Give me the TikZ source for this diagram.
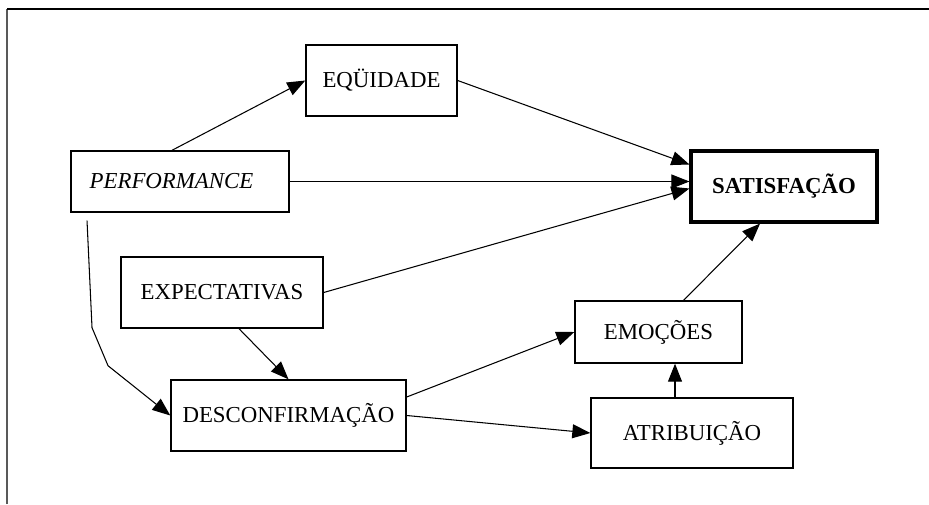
\documentclass[tikz,border=0pt]{standalone}
\usepackage{xcolor}
\usepackage{fontspec}
\setmainfont{Liberation Serif}
\usepackage{tikz}
\usetikzlibrary{arrows.meta}

\tikzset{
  box/.style={draw, line width=0.8pt, inner sep=0pt, font=\fontsize{13}{15}\selectfont},
  satbox/.style={box, line width=1.8pt, font=\fontsize{13}{15}\selectfont\bfseries},
  arr/.style={line width=0.6pt, -{Triangle[length=0.36cm,width=0.28cm]}}
}

\begin{document}
\begin{tikzpicture}[x=0.02cm,y=-0.02cm]
\useasboundingbox (0,0) rectangle (929,504);
\draw[gray!70!black, line width=0.9pt] (7,504) -- (7,9);
\draw[line width=0.8pt] (7,9) -- (929,9);

\node[box, minimum width=3.02cm, minimum height=1.42cm] (eq) at (381.5,80.5) {EQÜIDADE};
\node[box, minimum width=4.36cm, minimum height=1.22cm] (perf) at (180,181.5) {\hspace{-0.34cm}\textit{PERFORMANCE}};
\node[satbox, minimum width=3.72cm, minimum height=1.42cm] (sat) at (784,186.5) {SATISFAÇÃO};
\node[box, minimum width=4.04cm, minimum height=1.42cm] (exp) at (222,292.5) {EXPECTATIVAS};
\node[box, minimum width=3.34cm, minimum height=1.24cm] (emo) at (658.5,332) {EMOÇÕES};
\node[box, minimum width=4.7cm, minimum height=1.42cm] (desc) at (288.5,415.5) {DESCONFIRMAÇÃO};
\node[box, minimum width=4.04cm, minimum height=1.4cm] (atr) at (692,433) {\raisebox{-0.1cm}{ATRIBUIÇÃO}};

\draw[arr] ([xshift=-0.16cm]perf.north) -- (eq.west);
\draw[arr] (eq.east) -- ([yshift=0.44cm]sat.west);
\draw[arr] (perf.east) -- (perf.east -| sat.west);
\draw[arr] (exp.east) -- ([yshift=-0.04cm]sat.west);
\draw[arr] ([xshift=0.5cm]emo.north) -- ([xshift=-0.48cm]sat.south);
\draw[arr] ([xshift=0.34cm]exp.south) -- (desc.north);
\draw[arr] ([xshift=-1.86cm,yshift=-0.16cm]perf.south) -- ++(5,107) -- ++(16,38) -- (desc.west);
\draw[arr] ([yshift=0.37cm]desc.east) -- (emo.west);
\draw[arr] (desc.east) -- (atr.west);
\draw[arr] ([xshift=-0.34cm]atr.north) -- ([xshift=-0.34cm]atr.north |- emo.south);
\end{tikzpicture}
\end{document}
